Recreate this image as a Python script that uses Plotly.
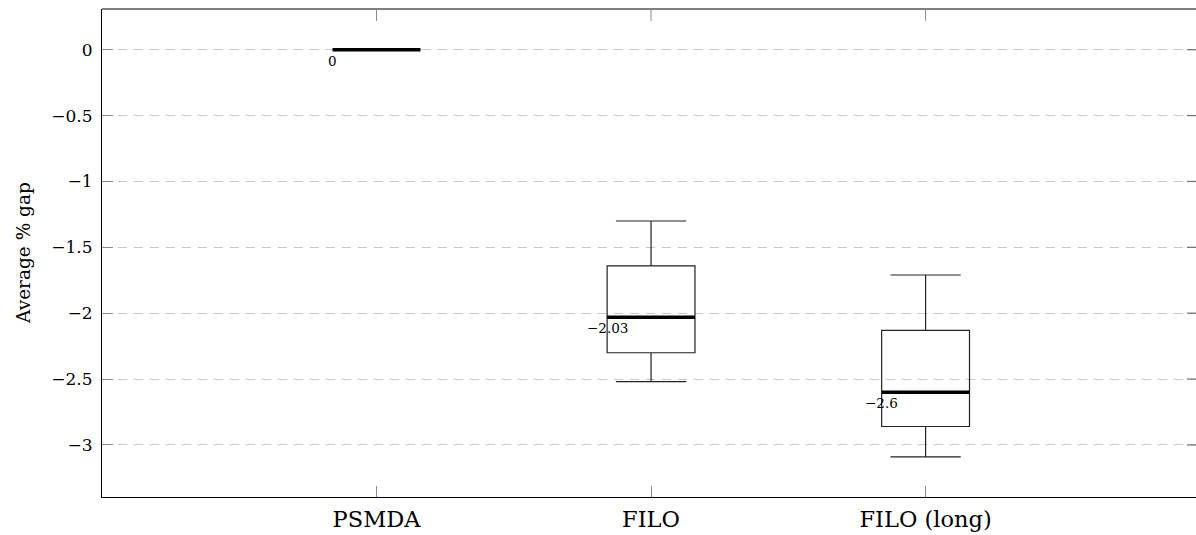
import plotly.graph_objects as go

# Methods compared and their box statistics (average % gap)
methods = ["PSMDA", "FILO", "FILO (long)"]
positions = [1, 2, 3]
lower_whisker = [0.0, -2.52, -3.09]
lower_quartile = [0.0, -2.30, -2.86]
median = [0.0, -2.03, -2.6]
upper_quartile = [0.0, -1.64, -2.13]
upper_whisker = [0.0, -1.30, -1.71]

y_ticks = [0, -0.5, -1, -1.5, -2, -2.5, -3]

BOX_W = 0.32
SERIF = "DejaVu Serif, Liberation Serif, serif"
TICK_GRAY = "#8a8a8a"

fig = go.Figure()

for i in range(len(methods)):
    fig.add_trace(go.Box(
        x=[positions[i]],
        q1=[lower_quartile[i]],
        median=[median[i]],
        q3=[upper_quartile[i]],
        lowerfence=[lower_whisker[i]],
        upperfence=[upper_whisker[i]],
        width=BOX_W,
        whiskerwidth=0.8,
        fillcolor="rgba(0,0,0,0)",
        line=dict(color="#222222", width=1.2),
        boxpoints=False,
        hoverinfo="skip",
        showlegend=False,
    ))
    # thick median bar
    fig.add_trace(go.Scatter(
        x=[positions[i] - BOX_W / 2, positions[i] + BOX_W / 2],
        y=[median[i], median[i]],
        mode="lines",
        line=dict(color="black", width=3.5),
        hoverinfo="skip",
        showlegend=False,
    ))
    # median value label under the bar at the box's left edge
    fig.add_annotation(
        x=positions[i] - BOX_W / 2, y=median[i],
        text=f"{median[i]:g}".replace("-", "\u2212"),
        showarrow=False, xanchor="center", yanchor="top", yshift=-1,
        font=dict(family=SERIF, size=13.5, color="black"),
    )

# plot area: x 102..1196, y 8.7..497.5 px
fig.add_annotation(
    xref="paper", yref="paper", x=(24 - 102) / 1094, y=(497.5 - 253) / 488.8,
    text="Average % gap", textangle=-90, showarrow=False,
    xanchor="center", yanchor="middle",
    font=dict(family=SERIF, size=18.5, color="black"),
)

# top frame line and inward ticks on the top and right sides
shapes = [dict(type="line", xref="paper", yref="paper", x0=0, x1=1, y0=1, y1=1,
               line=dict(color="#555555", width=1.3))]
for p in positions:
    shapes.append(dict(type="line", xref="x", yref="paper", ysizemode="pixel",
                       yanchor=1, x0=p, x1=p, y0=0, y1=-12,
                       line=dict(color=TICK_GRAY, width=1)))
for t in y_ticks:
    shapes.append(dict(type="line", xref="paper", yref="y", xsizemode="pixel",
                       xanchor=1, x0=2, x1=-9, y0=t, y1=t,
                       line=dict(color="#777777", width=1.3)))

fig.update_layout(
    width=1196, height=535,
    margin=dict(l=102, r=0, t=8.7, b=37.5),
    paper_bgcolor="white", plot_bgcolor="white",
    font=dict(family=SERIF, size=17, color="black"),
    shapes=shapes,
    xaxis=dict(
        range=[0, 3.985], tickmode="array", tickvals=positions, ticktext=methods,
        showgrid=False, zeroline=False,
        showline=True, linecolor="black", linewidth=1.2, mirror=False,
        ticks="inside", ticklen=11, tickcolor=TICK_GRAY, tickwidth=1,
        ticklabelstandoff=2,
        tickfont=dict(family=SERIF, size=22.5),
    ),
    yaxis=dict(
        range=[-3.395, 0.309], tickmode="array", tickvals=y_ticks,
        showgrid=True, gridcolor="#c8c8c8", gridwidth=1, griddash="9px,7px",
        zeroline=False,
        showline=True, linecolor="black", linewidth=1.2, mirror=False,
        ticks="inside", ticklen=11, tickcolor=TICK_GRAY, tickwidth=1,
        ticklabelstandoff=5,
        tickfont=dict(family=SERIF, size=17),
    ),
)

fig.write_html("out.html")
